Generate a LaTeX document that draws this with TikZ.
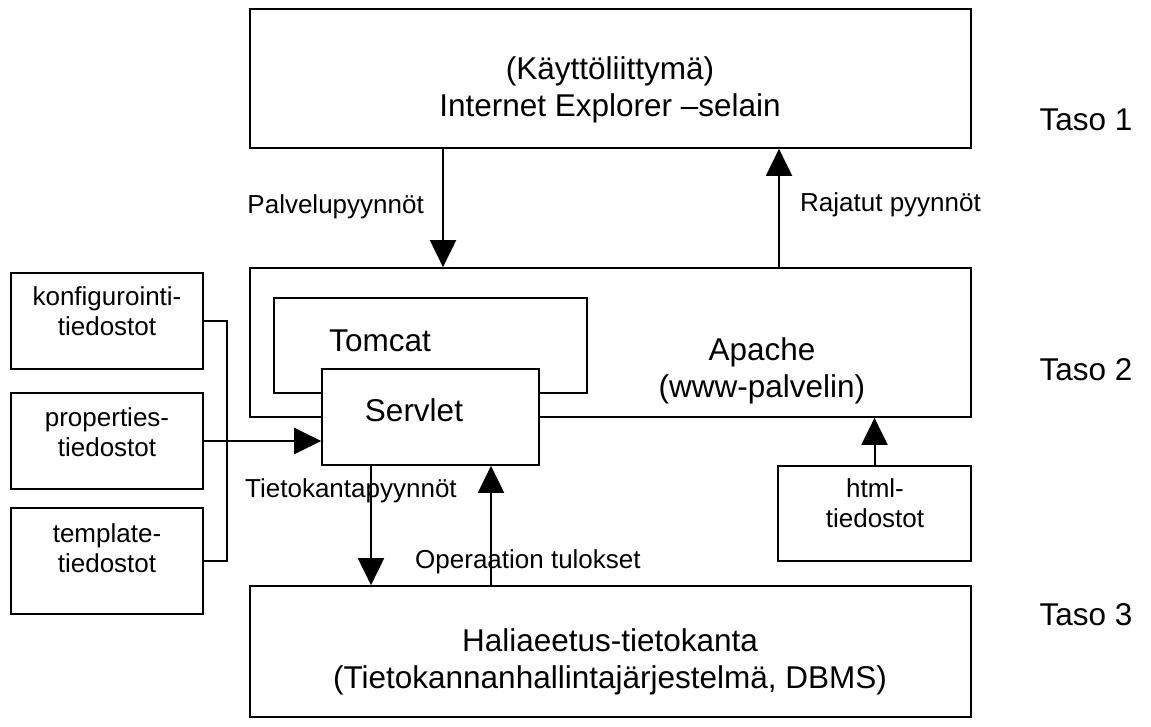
\documentclass[tikz,border=0pt]{standalone}
\usepackage{fontspec}
\setmainfont{Liberation Sans}
\usetikzlibrary{arrows.meta}
\begin{document}
\begin{tikzpicture}[x=1pt,y=-1pt,
  box/.style={draw, line width=1.7pt, inner sep=0pt},
  bigtext/.style={font=\fontsize{31.5}{37}\selectfont, align=center, inner sep=0pt},
  smalltext/.style={font=\fontsize{26}{30}\selectfont, align=center, inner sep=0pt},
  arr/.style={line width=2pt, -{Triangle[length=27pt,width=26pt]}},
  brack/.style={line width=2.8pt},
]
\useasboundingbox (0,0) rectangle (1151,727);
% main boxes
\node[box, minimum width=721pt, minimum height=139pt] (ui) at (610.5,78.5) {};
\node[box, minimum width=721pt, minimum height=149pt] (apache) at (610.5,342.5) {};
\node[box, minimum width=313pt, minimum height=95pt] (tomcat) at (430.5,345.5) {};
\node[box, fill=white, minimum width=217pt, minimum height=96pt] (servlet) at (430.5,417) {};
\node[box, minimum width=193pt, minimum height=95pt] (html) at (874.5,513.5) {};
\node[box, minimum width=721pt, minimum height=131pt] (db) at (610.5,651.5) {};
% left boxes
\node[box, minimum width=192pt, minimum height=96pt] (konf) at (107,321) {};
\node[box, minimum width=192pt, minimum height=96pt] (prop) at (107,441) {};
\node[box, minimum width=192pt, minimum height=106pt] (tmpl) at (107,561) {};
% texts
\node[bigtext] (uitext) at (610,90) {(Käyttöliittymä)\\Internet Explorer –selain};
\node[bigtext] (apachetext) at (762,371) {Apache\\(www-palvelin)};
\node[bigtext] (tomcattext) at (380,341) {Tomcat};
\node[bigtext] (servlettext) at (414,410) {Servlet};
\node[bigtext] (dbtext) at (610,662) {Haliaeetus-tietokanta\\(Tietokannanhallintajärjestelmä, DBMS)};
\node[smalltext] (htmltext) at (875,503) {html-\\tiedostot};
\node[smalltext] (konftext) at (107,311) {konfigurointi-\\tiedostot};
\node[smalltext] (proptext) at (107,432) {properties-\\tiedostot};
\node[smalltext] (tmpltext) at (107,548) {template-\\tiedostot};
\node[bigtext] (taso1) at (1086,120) {Taso 1};
\node[bigtext] (taso2) at (1086,370) {Taso 2};
\node[bigtext] (taso3) at (1086,615) {Taso 3};
% connector positions
\coordinate (xpal) at (443,0);
\coordinate (xraj) at (779,0);
\coordinate (xdown) at (371,0);
\coordinate (xup) at (491,0);
\coordinate (xbr) at (227,0);
% arrows
\draw[arr] (ui.south -| xpal) -- (apache.north -| xpal);
\draw[arr] (apache.north -| xraj) -- (ui.south -| xraj);
\draw[arr] (servlet.south -| xdown) -- (db.north -| xdown);
\draw[arr] (db.north -| xup) -- (servlet.south -| xup);
\draw[arr] (html.north) -- (apache.south -| html.north);
\draw[brack] (konf.east) -| (xbr |- tmpl.east) -- (tmpl.east);
\draw[brack, -{Triangle[length=27pt,width=26pt]}] (prop.east) -- (prop.east -| servlet.west);
% labels
\node[smalltext, anchor=east] (lpal) at (424,207) {Palvelupyynnöt};
\node[smalltext, anchor=west] (lraj) at (800,205) {Rajatut pyynnöt};
\node[smalltext, anchor=west] (ltk) at (245,491) {Tietokantapyynnöt};
\node[smalltext, anchor=west] (lop) at (415,562) {Operaation tulokset};
\end{tikzpicture}
\end{document}
